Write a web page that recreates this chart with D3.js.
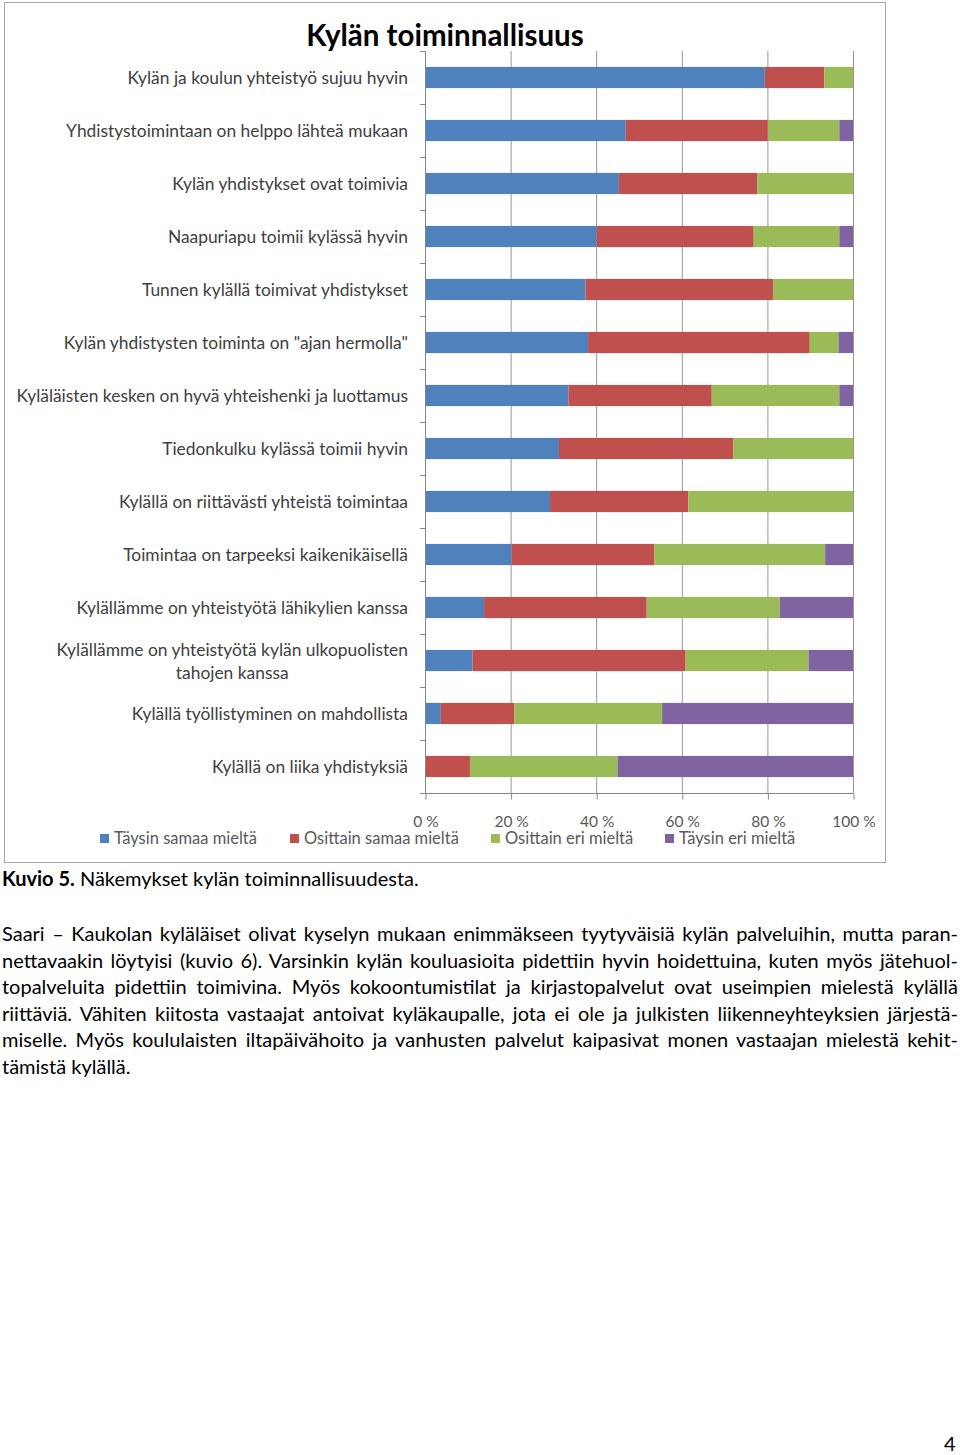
<!DOCTYPE html>
<html>
<head>
<meta charset="utf-8">
<script src="https://cdn.jsdelivr.net/npm/d3@7"></script>
<style>
  html, body { margin: 0; padding: 0; background: #fff; }
  body { width: 960px; height: 1455px; position: relative; overflow: hidden; font-family: Lato, "Open Sans", sans-serif; }
  #chart { position: absolute; left: 0; top: 0; }
  .txt { position: absolute; left: 2px; width: 956px; font-size: 20px; color: #000; white-space: nowrap; }
  .j { text-align: justify; text-align-last: justify; }
</style>
</head>
<body>
<svg id="chart" width="960" height="870"></svg>
<div class="txt" style="top:866px;"><b>Kuvio 5.</b> Näkemykset kylän toiminnallisuudesta.</div>
<div id="para"></div>
<div class="txt" style="top:1431px; left:944px; width:20px;">4</div>
<script>
const categories = [
  "Kylän ja koulun yhteistyö sujuu hyvin",
  "Yhdistystoimintaan on helppo lähteä mukaan",
  "Kylän yhdistykset ovat toimivia",
  "Naapuriapu toimii kylässä hyvin",
  "Tunnen kylällä toimivat yhdistykset",
  "Kylän yhdistysten toiminta on \"ajan hermolla\"",
  "Kyläläisten kesken on hyvä yhteishenki ja luottamus",
  "Tiedonkulku kylässä toimii hyvin",
  "Kylällä on riittävästi yhteistä toimintaa",
  "Toimintaa on tarpeeksi kaikenikäisellä",
  "Kylällämme on yhteistyötä lähikylien kanssa",
  "Kylällämme on yhteistyötä kylän ulkopuolisten|tahojen kanssa",
  "Kylällä työllistyminen on mahdollista",
  "Kylällä on liika yhdistyksiä"
];
const seriesNames = ["Täysin samaa mieltä", "Osittain samaa mieltä", "Osittain eri mieltä", "Täysin eri mieltä"];
const taysinSamaa   = [79.4, 46.9, 45.3, 40.1, 37.5, 38.1, 33.5, 31.3, 29.2, 20.2, 13.8, 11.1, 3.7, 0];
const osittainSamaa = [13.9, 33.2, 32.3, 36.7, 43.8, 51.8, 33.5, 40.7, 32.3, 33.4, 38.0, 49.8, 17.2, 10.5];
const osittainEri   = [6.7, 16.7, 22.4, 20.0, 18.7, 6.7, 29.8, 28.0, 38.5, 39.9, 31.1, 28.7, 34.5, 34.5];
const taysinEri     = [0, 3.2, 0, 3.2, 0, 3.4, 3.2, 0, 0, 6.5, 17.1, 10.4, 44.6, 55.0];
const xTicks = [0, 20, 40, 60, 80, 100];
const tickLabels = ["0 %", "20 %", "40 %", "60 %", "80 %", "100 %"];
const colors = ["#4f81bd", "#c0504d", "#9bbb59", "#8064a2"];
const title = "Kylän toiminnallisuus";
const paragraphLines = [
  "Saari – Kaukolan kyläläiset olivat kyselyn mukaan enimmäkseen tyytyväisiä kylän palveluihin, mutta paran-",
  "nettavaakin löytyisi (kuvio 6). Varsinkin kylän kouluasioita pidettiin hyvin hoidettuina, kuten myös jätehuol-",
  "topalveluita pidettiin toimivina. Myös kokoontumistilat ja kirjastopalvelut ovat useimpien mielestä kylällä",
  "riittäviä. Vähiten kiitosta vastaajat antoivat kyläkaupalle, jota ei ole ja julkisten liikenneyhteyksien järjestä-",
  "miselle. Myös koululaisten iltapäivähoito ja vanhusten palvelut kaipasivat monen vastaajan mielestä kehit-",
  "tämistä kylällä."
];

const rows = categories.map((c, i) => ({
  cat: c, vals: [taysinSamaa[i], osittainSamaa[i], osittainEri[i], taysinEri[i]]
}));
const stackData = rows.map(r => { const o = {cat: r.cat}; seriesNames.forEach((s, k) => o[s] = r.vals[k]); return o; });
const stacked = d3.stack().keys(seriesNames)(stackData);

const svg = d3.select("#chart");
const font = "Lato, 'Open Sans', sans-serif";

// frame
svg.append("rect").attr("x", 4.5).attr("y", 2.5).attr("width", 881).attr("height", 860)
  .attr("fill", "#fff").attr("stroke", "#a6a6a6").attr("stroke-width", 1);

const x = d3.scaleLinear().domain([0, 100]).range([425, 853]);
const y = d3.scaleBand().domain(categories).range([51, 793]).paddingInner(0.6).paddingOuter(0.3);

// gridlines
svg.append("g").selectAll("line").data(xTicks.slice(1)).join("line")
  .attr("x1", d => x(d) + 0.5).attr("x2", d => x(d) + 0.5)
  .attr("y1", 51).attr("y2", 793)
  .attr("stroke", "#969696").attr("stroke-width", 1);

// bars
svg.append("g").selectAll("g").data(stacked).join("g")
  .attr("fill", (d, i) => colors[i])
  .selectAll("rect").data(d => d).join("rect")
  .attr("x", d => x(d[0]))
  .attr("width", d => Math.max(0, x(d[1]) - x(d[0])))
  .attr("y", d => y(d.data.cat))
  .attr("height", y.bandwidth());

// y axis line and ticks at category boundaries
const yAxisG = svg.append("g");
yAxisG.append("line").attr("x1", 425.5).attr("x2", 425.5).attr("y1", 51).attr("y2", 793)
  .attr("stroke", "#868686");
const bounds = categories.map(c => y(c) - y.step() * y.paddingOuter()).concat([793]);
yAxisG.selectAll("line.tk").data(bounds).join("line").attr("class", "tk")
  .attr("x1", 420).attr("x2", 425.5).attr("y1", d => Math.round(d) + 0.5).attr("y2", d => Math.round(d) + 0.5)
  .attr("stroke", "#868686");

// x axis
const xAxis = d3.axisBottom(x).tickValues(xTicks).tickSize(6).tickFormat((d, i) => tickLabels[i]);
const xg = svg.append("g").attr("transform", "translate(0.5,793.5)").call(xAxis);
xg.select(".domain").attr("stroke", "#868686").attr("d", "M425,0H853");
xg.selectAll(".tick line").attr("stroke", "#868686");
xg.selectAll(".tick text").attr("y", 22).attr("font-family", font).attr("font-size", 15.5).attr("fill", "#595959");

// category labels
const lab = svg.append("g").attr("font-family", font).attr("font-size", 17.4).attr("fill", "#404040");
categories.forEach(c => {
  const parts = c.split("|");
  const cy = y(c) + y.bandwidth() / 2;
  if (parts.length === 1) {
    lab.append("text").attr("x", 408).attr("y", cy).attr("dy", "0.35em").attr("text-anchor", "end").text(c);
  } else {
    const t1 = lab.append("text").attr("x", 408).attr("y", cy - 11).attr("dy", "0.35em").attr("text-anchor", "end").text(parts[0]);
    const w = t1.node().getComputedTextLength();
    lab.append("text").attr("x", 408 - w / 2).attr("y", cy + 12).attr("dy", "0.35em").attr("text-anchor", "middle").text(parts[1]);
  }
});

// title
svg.append("text").attr("x", 445).attr("y", 46).attr("text-anchor", "middle")
  .attr("font-family", font).attr("font-weight", "bold").attr("font-size", 29.5).attr("fill", "#000").text(title);

// legend
const legendX = [100, 290, 491, 665];
const lg = svg.append("g").attr("font-family", font).attr("font-size", 16.5).attr("fill", "#595959");
seriesNames.forEach((s, i) => {
  lg.append("rect").attr("x", legendX[i]).attr("y", 834).attr("width", 9).attr("height", 9).attr("fill", colors[i]);
  lg.append("text").attr("x", legendX[i] + 14).attr("y", 838.5).attr("dy", "0.35em").text(s);
});

// paragraph
d3.select("#para").selectAll("div").data(paragraphLines).join("div")
  .attr("class", (d, i) => i < paragraphLines.length - 1 ? "txt j" : "txt")
  .style("top", (d, i) => (921 + i * 26.5) + "px")
  .text(d => d);
</script>
</body>
</html>
